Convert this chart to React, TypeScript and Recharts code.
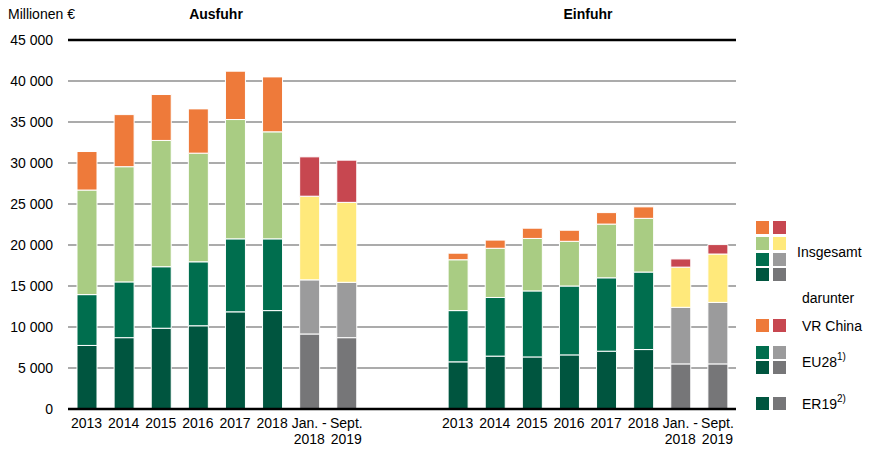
import { Bar, BarChart, CartesianGrid, Cell, ReferenceLine, XAxis, YAxis } from "recharts";

const years = ["2013", "2014", "2015", "2016", "2017", "2018", "Jan. -|2018", "Sept.|2019"];

// Ausfuhr (Millionen €)
const exportTotal = [31400, 35900, 38350, 36600, 41200, 40500, 30750, 30350];
const exportChina = [4700, 6350, 5600, 5400, 5900, 6700, 4800, 5150];
const exportEU28 = [13950, 15500, 17350, 17950, 20750, 20750, 15750, 15450];
const exportER19 = [7750, 8700, 9850, 10150, 11850, 12000, 9150, 8700];

// Einfuhr (Millionen €)
const importTotal = [19000, 20600, 22050, 21800, 23950, 24650, 18300, 20050];
const importChina = [800, 1000, 1250, 1350, 1400, 1400, 1000, 1150];
const importEU28 = [12000, 13600, 14400, 15000, 16000, 16700, 12400, 13000];
const importER19 = [5750, 6450, 6350, 6600, 7050, 7250, 5500, 5500];

const yTicks = [0, 5000, 10000, 15000, 20000, 25000, 30000, 35000, 40000, 45000];

const C = {
  orange: "#EE7A3A",
  lightGreen: "#A9CC83",
  green: "#006E4E",
  darkGreen: "#00553F",
  red: "#C74750",
  yellow: "#FFE97B",
  grey: "#9B9B9C",
  darkGrey: "#767678",
};

const FONT = '"Liberation Sans", Arial, sans-serif';

type Row = {
  id: string;
  label: string;
  partial: boolean;
  er19?: number;
  eu28Rest?: number;
  rest?: number;
  china?: number;
};

function group(prefix: string, total: number[], china: number[], eu28: number[], er19: number[]): Row[] {
  return years.map((label, i) => ({
    id: `${prefix}${i}`,
    label,
    partial: i >= 6,
    er19: er19[i],
    eu28Rest: eu28[i] - er19[i],
    rest: total[i] - china[i] - eu28[i],
    china: china[i],
  }));
}

const data: Row[] = [
  ...group("a", exportTotal, exportChina, exportEU28, exportER19),
  { id: "gap1", label: "", partial: false },
  { id: "gap2", label: "", partial: false },
  ...group("e", importTotal, importChina, importEU28, importER19),
];

const fmt = (v: number) => String(v).replace(/\B(?=(\d{3})+(?!\d))/g, " ");

function XTick(props: any) {
  const { x, y, payload } = props;
  const row = data.find((d) => d.id === payload.value);
  const lines = row ? row.label.split("|").filter(Boolean) : [];
  return (
    <text x={x} y={y} textAnchor="middle" fontSize={14} fill="#000" fontFamily={FONT}>
      {lines.map((l, i) => (
        <tspan key={i} x={x} dy={i === 0 ? "0.71em" : 16}>
          {l}
        </tspan>
      ))}
    </text>
  );
}

const series: { key: keyof Row; normal: string; partial: string }[] = [
  { key: "er19", normal: C.darkGreen, partial: C.darkGrey },
  { key: "eu28Rest", normal: C.green, partial: C.grey },
  { key: "rest", normal: C.lightGreen, partial: C.yellow },
  { key: "china", normal: C.orange, partial: C.red },
];

function Legend() {
  const sq = 13;
  const x1 = 756;
  const x2 = 773;
  const sqRow = (y: number, a: string, b: string) => (
    <g key={y}>
      <rect x={x1} y={y} width={sq} height={sq} fill={a} />
      <rect x={x2} y={y} width={sq} height={sq} fill={b} />
    </g>
  );
  const t = { fontSize: 14, fontFamily: FONT, fill: "#000", dominantBaseline: "central" as const };
  return (
    <svg width={869} height={452} style={{ position: "absolute", left: 0, top: 0, pointerEvents: "none" }}>
      {sqRow(221, C.orange, C.red)}
      {sqRow(237, C.lightGreen, C.yellow)}
      {sqRow(253, C.green, C.grey)}
      {sqRow(268, C.darkGreen, C.darkGrey)}
      <text x={797} y={252} {...t}>Insgesamt</text>
      <text x={802} y={298} {...t}>darunter</text>
      {sqRow(319, C.orange, C.red)}
      <text x={802} y={326} {...t}>VR China</text>
      {sqRow(346, C.green, C.grey)}
      {sqRow(361, C.darkGreen, C.darkGrey)}
      <text x={802} y={362} {...t}>
        EU28<tspan fontSize={10} dy={-6}>1)</tspan>
      </text>
      {sqRow(397, C.darkGreen, C.darkGrey)}
      <text x={802} y={404} {...t}>
        ER19<tspan fontSize={10} dy={-6}>2)</tspan>
      </text>
    </svg>
  );
}

export default function App() {
  return (
    <div style={{ position: "absolute", left: 0, top: 0, width: 869, height: 452, background: "#fff", fontFamily: FONT }}>
      <BarChart width={869} height={452} data={data} margin={{ top: 40, right: 133, bottom: 0, left: 0 }}>
        <CartesianGrid vertical={false} stroke="#ABABAB" strokeWidth={2} />
        <XAxis
          dataKey="id"
          tick={<XTick />}
          tickLine={false}
          tickSize={0}
          tickMargin={9}
          height={43}
          interval={0}
          axisLine={{ stroke: "#000", strokeWidth: 2.5 }}
        />
        <YAxis
          domain={[0, 45000]}
          ticks={yTicks}
          tickFormatter={fmt}
          width={68}
          tickSize={0}
          tickMargin={15}
          axisLine={false}
          tickLine={false}
          tick={{ fontSize: 14, fill: "#000", fontFamily: FONT }}
        />
        <ReferenceLine y={45000} stroke="#000" strokeWidth={2.5} />
        {series.map((s) => (
          <Bar
            key={s.key}
            dataKey={s.key}
            stackId="s"
            barSize={20}
            stroke="#fff"
            strokeWidth={1}
            isAnimationActive={false}
          >
            {data.map((d) => (
              <Cell key={d.id} fill={d.partial ? s.partial : s.normal} />
            ))}
          </Bar>
        ))}
      </BarChart>
      <div style={{ position: "absolute", left: 8, top: 6, fontSize: 14 }}>Millionen €</div>
      <div style={{ position: "absolute", left: 216, top: 6, fontSize: 14, fontWeight: "bold", transform: "translateX(-50%)" }}>
        Ausfuhr
      </div>
      <div style={{ position: "absolute", left: 588, top: 6, fontSize: 14, fontWeight: "bold", transform: "translateX(-50%)" }}>
        Einfuhr
      </div>
      <Legend />
    </div>
  );
}
